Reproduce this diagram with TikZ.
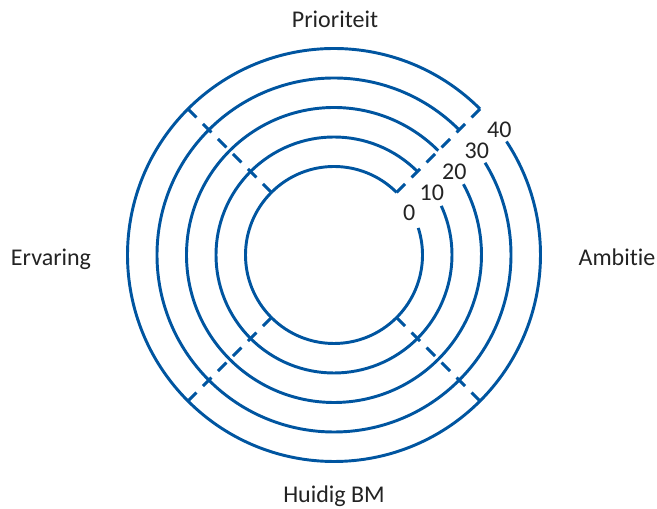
\documentclass[tikz,border=0pt]{standalone}
\usepackage{fontspec}
\setmainfont{Carlito}[Ligatures=NoCommon]
\definecolor{ringblue}{RGB}{0,85,160}
\definecolor{labelgray}{RGB}{35,35,35}

\begin{document}
\begin{tikzpicture}[x=0.75pt,y=0.75pt,
    ring/.style={ringblue, line width=2.2pt},
    axisline/.style={ringblue, line width=2.2pt, dash pattern=on 9pt off 6.9pt},
    lbl/.style={text=labelgray, font=\fontsize{18}{20}\selectfont, inner sep=0pt}]
    \useasboundingbox (-334,-254) rectangle (323,255);
    %%rings
    \foreach \i in {0,...,4}{
        \pgfmathsetmacro{\r}{88.5+29.5*\i}
        \pgfmathsetmacro{\gap}{42/\r*180/pi}
        \draw[ring] (45:\r) arc[start angle=45, end angle=405-\gap, radius=\r];
    }
    %%diagonals
    \foreach \a in {45,135,225,315}
        \draw[axisline] (\a:88.5) -- (\a:206.5);
    %%scale
    \foreach \i/\t in {0/0,1/10,2/20,3/30,4/40}
        \node[lbl] (num\i) at ({75.3+22.5*\i},{41.7+20.8*\i}) {\t};
    %%axes
    \node[lbl, anchor=base] (prio) at (1,227) {Prioriteit};
    \node[lbl, anchor=base] (ambitie) at (283,-11) {Ambitie};
    \node[lbl, anchor=base] (huidig) at (0,-248) {Huidig BM};
    \node[lbl, anchor=base] (ervaring) at (-283,-11) {Ervaring};
\end{tikzpicture}
\end{document}
